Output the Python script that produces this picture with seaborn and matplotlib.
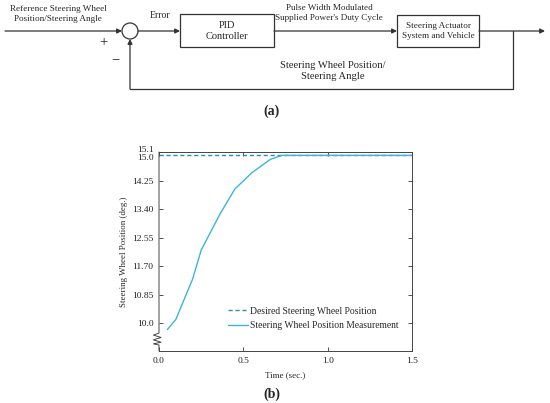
import numpy as np
import pandas as pd
import matplotlib
matplotlib.use('Agg')
import matplotlib.pyplot as plt
import matplotlib.transforms as mtransforms
import seaborn as sns

# ---- data ----
time_meas = [0.05, 0.10, 0.20, 0.25, 0.36, 0.45, 0.55, 0.61, 0.66, 0.73, 1.50]
pos_meas = [9.82, 10.12, 11.33, 12.18, 13.24, 14.00, 14.48, 14.70, 14.88, 15.0, 15.0]
time_desired = [0.0, 1.5]
pos_desired = [15.0, 15.0]

y_ticks = [10.0, 10.85, 11.70, 12.55, 13.40, 14.25, 15.0, 15.1]
y_tick_labels = ['10.0', '10.85', '11.70', '12.55', '13.40', '14.25', '15.0', '15.1']
x_ticks = [0.0, 0.5, 1.0, 1.5]

sns.set_style('ticks')
plt.rcParams['font.family'] = ['Liberation Serif', 'DejaVu Serif']

fig = plt.figure(figsize=(5.5, 4.03), dpi=100)

# ---- (a) block diagram, drawn in pixel coordinates ----
dg = fig.add_axes([0, 1 - 120 / 403, 1, 120 / 403])
dg.set_xlim(0, 550)
dg.set_ylim(120, 0)
dg.axis('off')

lc = '#333333'
lw = 0.9


def arrow(x0, y0, x1, y1):
    dg.annotate('', xy=(x1, y1), xytext=(x0, y0),
                arrowprops=dict(arrowstyle='-|>', color=lc, lw=lw,
                                mutation_scale=7, shrinkA=0, shrinkB=0))


def seg(xs, ys):
    dg.plot(xs, ys, color=lc, lw=lw, solid_joinstyle='round')


main_y = 31
arrow(5, main_y, 122, main_y)
dg.add_patch(plt.Circle((130, main_y), 8, fill=False, color=lc, lw=lw))
arrow(138, main_y, 180, main_y)
dg.add_patch(plt.Rectangle((180, 14), 94, 33, fill=False, color=lc, lw=lw))
arrow(274, main_y, 397, main_y)
dg.add_patch(plt.Rectangle((397, 15), 82, 32, fill=False, color=lc, lw=lw))
arrow(479, main_y, 545, main_y)
seg([513, 513, 130], [main_y, 89, 89])
arrow(130, 89, 130, 39)

dg.text(58, 14, 'Reference Steering Wheel\nPosition/Steering Angle', ha='center', va='center',
        fontsize=6.6, linespacing=1.35)
dg.text(160, 15, 'Error', ha='center', va='center', fontsize=7)
dg.text(227, 31, 'PID\nController', ha='center', va='center', fontsize=7.5, linespacing=1.35)
dg.text(329, 13, "Pulse Width Modulated\nSupplied Power's Duty Cycle", ha='center', va='center',
        fontsize=6.6, linespacing=1.45)
dg.text(438, 31, 'Steering Actuator\nSystem and Vehicle', ha='center', va='center',
        fontsize=6.6, linespacing=1.35)
dg.text(333, 71, 'Steering Wheel Position/\nSteering Angle', ha='center', va='center',
        fontsize=7.6, linespacing=1.25)
dg.text(103, 43, '+', ha='center', va='center', fontsize=10.5)
dg.text(115, 60, '\u2212', ha='center', va='center', fontsize=10.5)
dg.text(272, 111, '(a)', ha='center', va='center', fontsize=10, fontweight='bold')

# ---- (b) step response ----
ax = fig.add_axes([159 / 550, 1 - 351 / 403, 253 / 550, 199 / 403])

df_des = pd.DataFrame({'t': time_desired, 'pos': pos_desired})
df_meas = pd.DataFrame({'t': time_meas, 'pos': pos_meas})

sns.lineplot(data=df_des, x='t', y='pos', ax=ax, color='#2a8dbd', lw=1.0,
             linestyle=(0, (3, 2)), label='Desired Steering Wheel Position')
sns.lineplot(data=df_meas, x='t', y='pos', ax=ax, color='#3cb4dd', lw=1.0,
             label='Steering Wheel Position Measurement')

ax.set_xlim(0, 1.5)
ax.set_ylim(9.18, 15.1)
ax.set_xticks(x_ticks)
ax.set_xticklabels([f'{v:.1f}' for v in x_ticks])
ax.set_yticks(y_ticks)
ax.set_yticklabels(y_tick_labels)
ax.tick_params(direction='in', length=3, width=0.6, labelsize=6.8, top=True, right=True,
               colors='#333333', labelcolor='#222222', pad=4)
ax.set_xlabel('Time (sec.)', fontsize=6.5, labelpad=5)
ax.set_ylabel('Steering Wheel Position (deg.)', fontsize=6.4, labelpad=3)

# nudge the two crowded top labels apart
ylabels = ax.get_yticklabels()
ylabels[-1].set_transform(ylabels[-1].get_transform() +
                          mtransforms.ScaledTranslation(0, 2.5 / 72, fig.dpi_scale_trans))
ylabels[-2].set_transform(ylabels[-2].get_transform() +
                          mtransforms.ScaledTranslation(0, -1.5 / 72, fig.dpi_scale_trans))

for s in ['top', 'right', 'bottom']:
    ax.spines[s].set_linewidth(0.7)
    ax.spines[s].set_color('#444444')
ax.spines['left'].set_visible(False)

# left spine with the axis-break zigzag
zx = [0, 0, -0.022, 0.008, -0.022, 0.008, -0.022, 0, 0]
zy = [1, 0.09, 0.08, 0.068, 0.056, 0.044, 0.036, 0.03, 0]
ax.plot(zx, zy, transform=ax.transAxes, color='#444444', lw=0.7, clip_on=False)

ax.legend(loc='lower left', bbox_to_anchor=(0.24, 0.06), frameon=False, fontsize=6.9,
          handlelength=2.0, handletextpad=0.3, labelspacing=0.6)

fig.text(272 / 550, 1 - 394 / 403, '(b)', ha='center', va='center', fontsize=10,
         fontweight='bold')

fig.savefig('out.png', dpi=100)
